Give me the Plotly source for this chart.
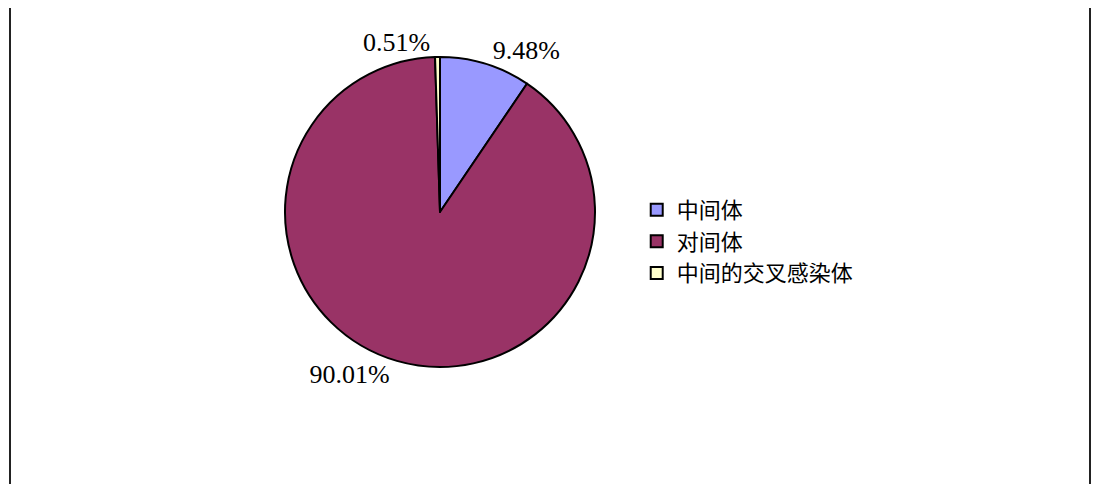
import plotly.graph_objects as go

labels = ["中间体", "对间体", "中间的交叉感染体"]
values = [9.48, 90.01, 0.51]
colors = ["#9999FF", "#993366", "#FFFFCC"]

W, H = 1084, 476
cx, cy, r = 432, 204, 155

fig = go.Figure(go.Pie(
    labels=labels,
    values=values,
    sort=False,
    direction="clockwise",
    rotation=0,
    marker=dict(colors=colors, line=dict(color="#000000", width=2)),
    texttemplate="%{value:.2f}%",
    textposition="outside",
    textfont=dict(family="Liberation Serif, Noto Sans CJK SC", size=26, color="#000000"),
    domain=dict(x=[(cx - r) / W, (cx + r) / W], y=[(H - cy - r) / H, (H - cy + r) / H]),
    hoverinfo="skip",
))

fig.add_shape(type="rect", xref="paper", yref="paper",
              x0=2 / W, x1=1082 / W, y0=-0.05, y1=1.05,
              line=dict(color="#222222", width=2), fillcolor="rgba(0,0,0,0)")

fig.update_layout(
    width=W, height=H,
    margin=dict(l=0, r=0, t=0, b=0),
    paper_bgcolor="#FFFFFF",
    plot_bgcolor="#FFFFFF",
    showlegend=True,
    legend=dict(x=0.58, y=0.62, xanchor="left", yanchor="top",
                font=dict(family="Liberation Serif, Noto Sans CJK SC", size=22, color="#000000"),
                itemsizing="constant", tracegroupgap=12, bgcolor="rgba(0,0,0,0)"),
)

fig.write_html("out.html")
